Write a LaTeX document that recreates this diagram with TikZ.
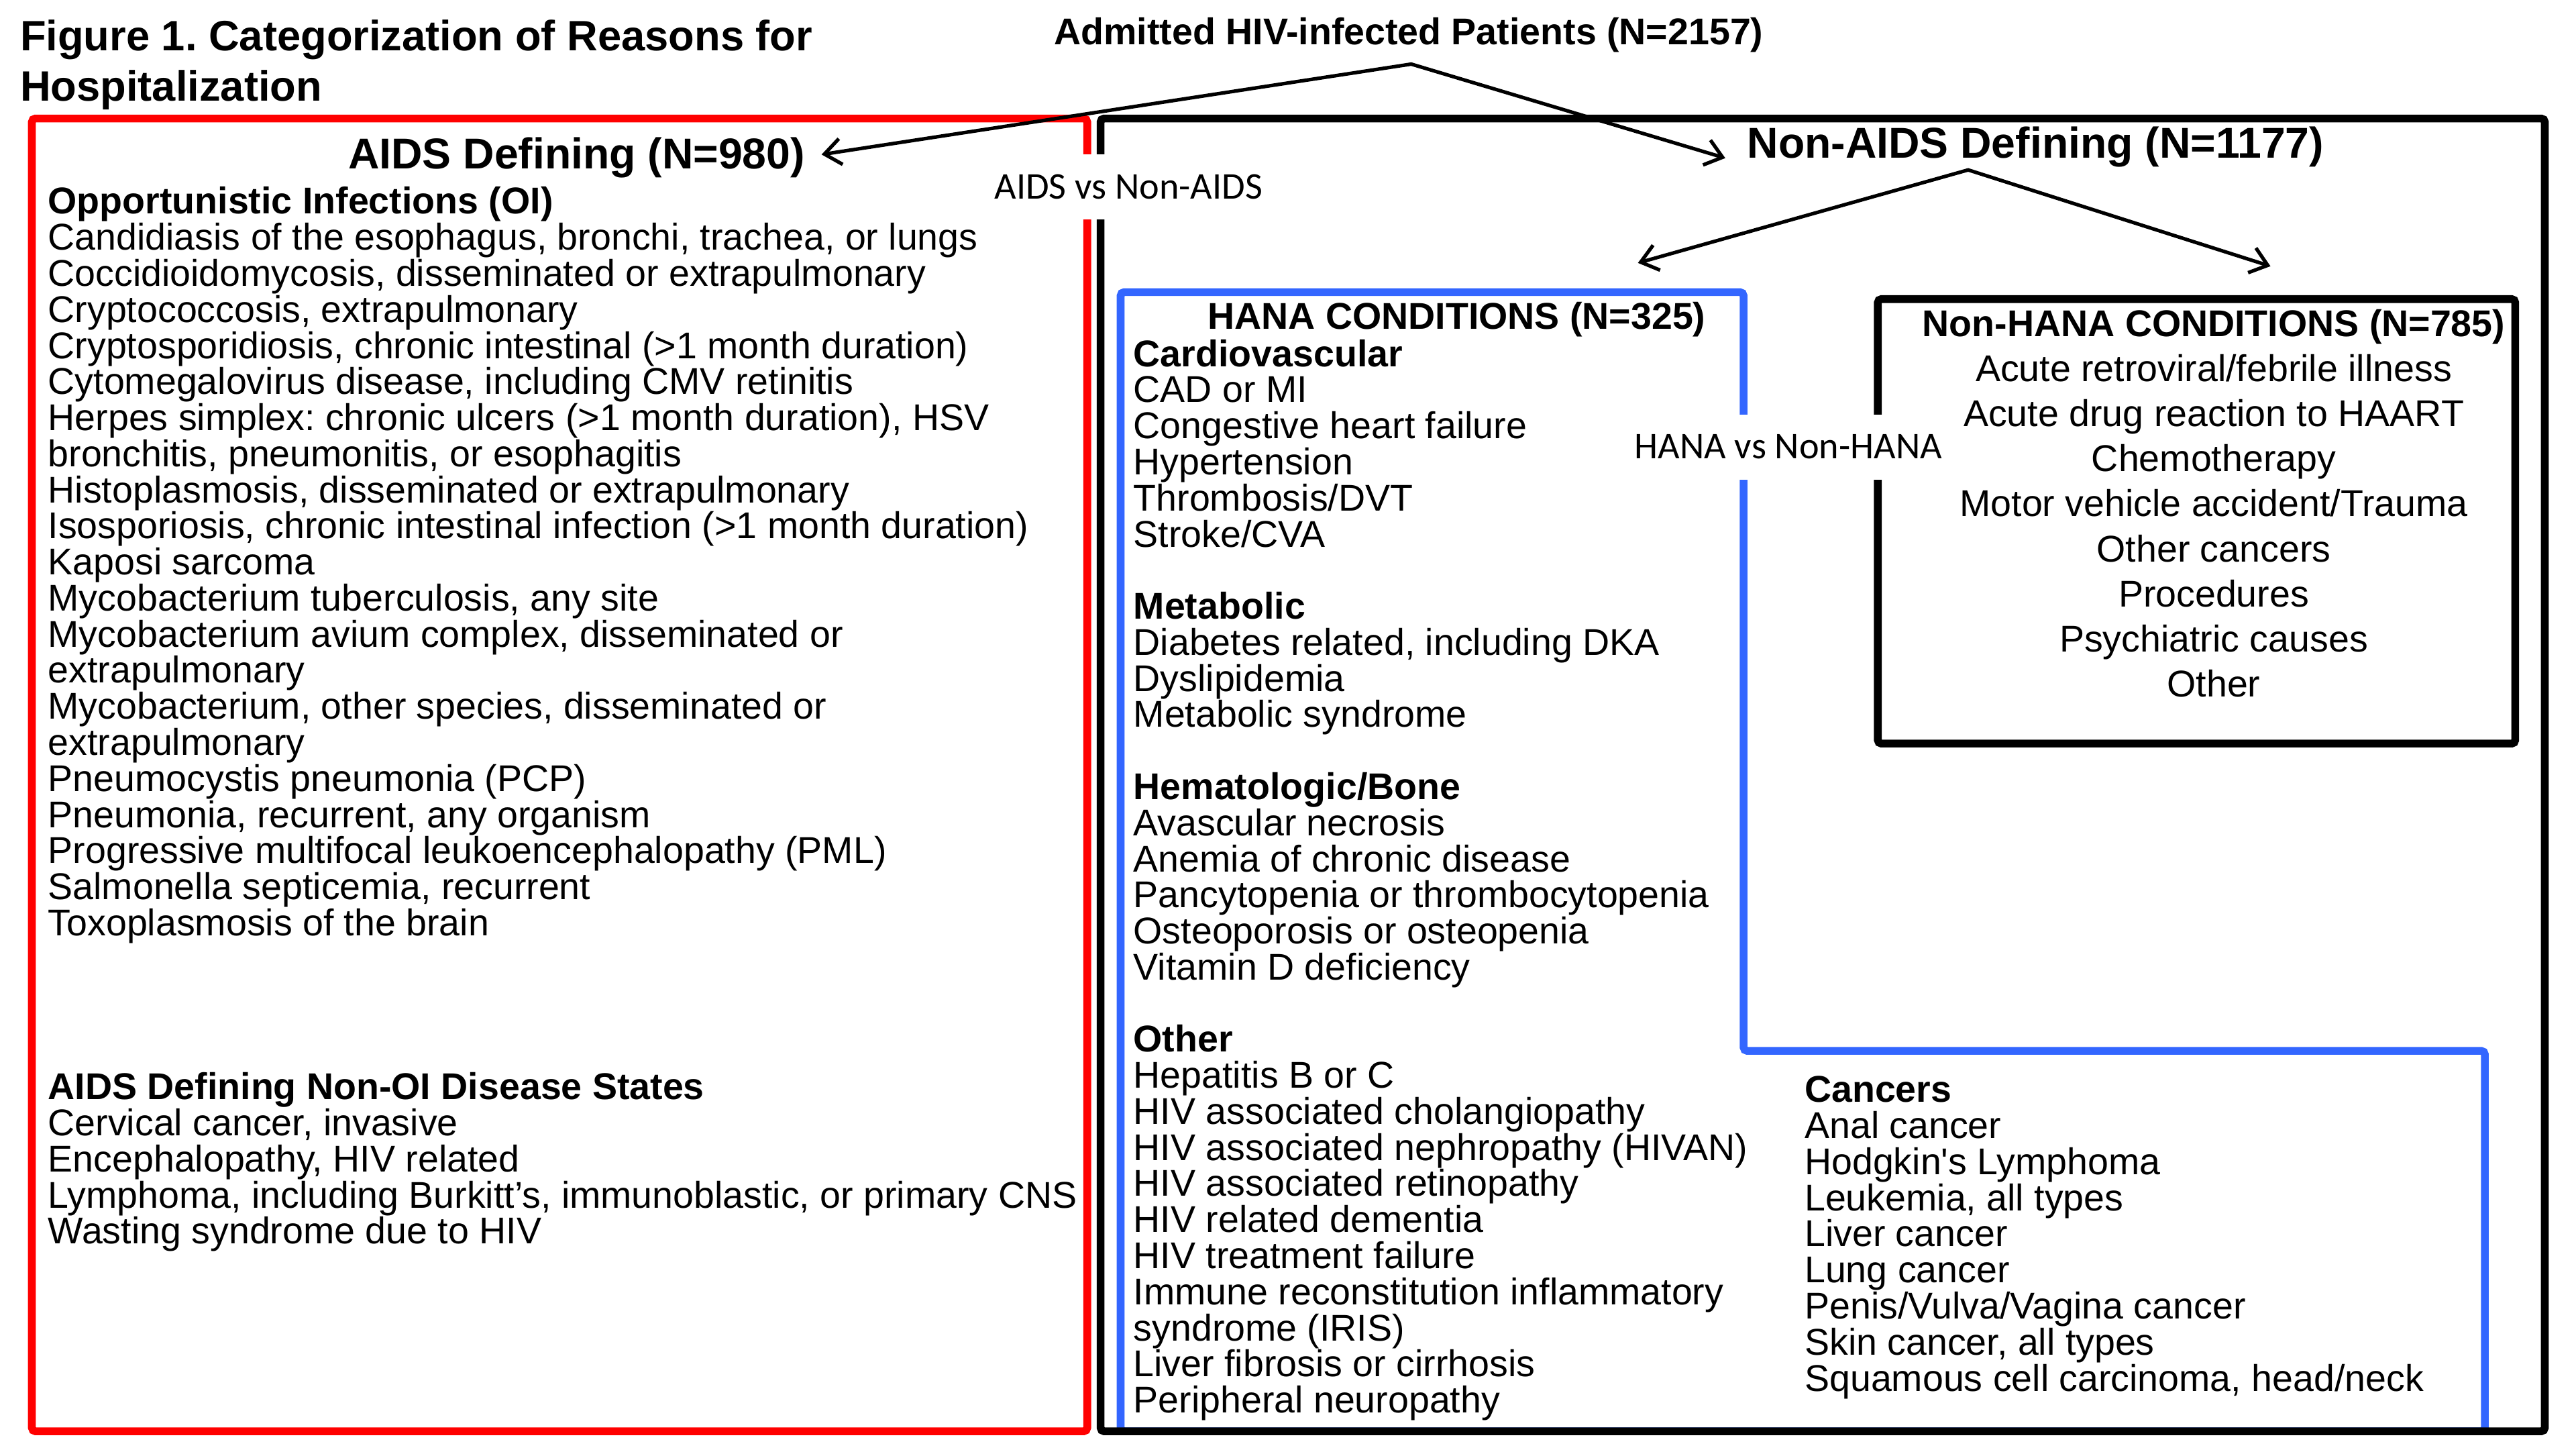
\documentclass[tikz,border=0pt]{standalone}
\usepackage{fontspec}
\setmainfont{Liberation Sans}
\newfontfamily\calibrifont{Carlito}
\usetikzlibrary{arrows.meta,positioning}
\definecolor{aidsred}{HTML}{FF0000}
\definecolor{hanablue}{HTML}{3366FF}
\frenchspacing

\begin{document}
\begin{tikzpicture}[
  x=0.02449cm, y=-0.02449cm,
  list/.style={anchor=north west, inner sep=0pt, align=left, font=\fontsize{15.8}{15.3}\selectfont},
  head/.style={inner sep=2pt, font=\bfseries\fontsize{18.3}{22}\selectfont},
  subhead/.style={inner sep=2pt, font=\bfseries\fontsize{15.8}{19}\selectfont},
  vslabel/.style={fill=white, inner xsep=3pt, inner ysep=0pt, minimum height=0.97cm, font=\calibrifont\fontsize{16}{19}\selectfont},
  frame/.style={line width=3.3pt, rounded corners=1.5pt},
  arr/.style={{Straight Barb[length=7pt, width=11pt]}-{Straight Barb[length=7pt, width=11pt]}, line width=1.5pt, line join=miter}
]
  \useasboundingbox (0,0) rectangle (1568,882);

  % boxes
  \draw[frame, hanablue] (682.1,871) -- (682.1,177.8) -- (1061.3,177.8) -- (1061.3,639.5) -- (1512.5,639.5) -- (1512.5,871) -- cycle;
  \draw[frame, aidsred] (19.4,72.1) rectangle (661.8,871);
  \draw[frame] (669.9,72.1) rectangle (1549,871);
  \draw[frame] (1143,182) rectangle (1531,452.5);

  % titles and headers
  \node[list, font=\bfseries\fontsize{18}{21.3}\selectfont] (title) at (12,11.7) {Figure 1. Categorization of Reasons for\\Hospitalization};
  \node[subhead, anchor=base] (patients) at (857.5,27.2) {Admitted HIV-infected Patients (N=2157)};
  \node[head, anchor=base] (aidshead) at (351,102.8) {AIDS Defining (N=980)};
  \node[head, anchor=base] (nonaidshead) at (1239,96) {Non-AIDS Defining (N=1177)};
  \node[subhead, anchor=base] (hanahead) at (886.7,200.3) {HANA CONDITIONS (N=325)};

  \node[vslabel] (aidsvs) at (686.9,113.7) {AIDS vs Non-AIDS};
  \node[vslabel] (hanavs) at (1088.5,272) {HANA vs Non-HANA};

  % AIDS defining
  \node[list] (oi) at (29,113.5) {\textbf{Opportunistic Infections (OI)}\\
    Candidiasis of the esophagus, bronchi, trachea, or lungs\\
    Coccidioidomycosis, disseminated or extrapulmonary\\
    Cryptococcosis, extrapulmonary\\
    Cryptosporidiosis, chronic intestinal (>1 month duration)\\
    Cytomegalovirus disease, including CMV retinitis\\
    Herpes simplex: chronic ulcers (>1 month duration), HSV\\
    bronchitis, pneumonitis, or esophagitis\\
    Histoplasmosis, disseminated or extrapulmonary\\
    Isosporiosis, chronic intestinal infection (>1 month duration)\\
    Kaposi sarcoma\\
    Mycobacterium tuberculosis, any site\\
    Mycobacterium avium complex, disseminated or\\
    extrapulmonary\\
    Mycobacterium, other species, disseminated or\\
    extrapulmonary\\
    Pneumocystis pneumonia (PCP)\\
    Pneumonia, recurrent, any organism\\
    Progressive multifocal leukoencephalopathy (PML)\\
    Salmonella septicemia, recurrent\\
    Toxoplasmosis of the brain};
  \node[list] (nonoi) at (29,652.4) {\textbf{AIDS Defining Non-OI Disease States}\\
    Cervical cancer, invasive\\
    Encephalopathy, HIV related\\
    Lymphoma, including Burkitt’s, immunoblastic, or primary CNS\\
    Wasting syndrome due to HIV};

  % HANA
  \node[list] (hana) at (689.7,206.3) {\textbf{Cardiovascular}\\
    CAD or MI\\
    Congestive heart failure\\
    Hypertension\\
    Thrombosis/DVT\\
    Stroke/CVA\\[15.3pt]
    \textbf{Metabolic}\\
    Diabetes related, including DKA\\
    Dyslipidemia\\
    Metabolic syndrome\\[15.3pt]
    \textbf{Hematologic/Bone}\\
    Avascular necrosis\\
    Anemia of chronic disease\\
    Pancytopenia or thrombocytopenia\\
    Osteoporosis or osteopenia\\
    Vitamin D deficiency\\[15.3pt]
    \textbf{Other}\\
    Hepatitis B or C\\
    HIV associated cholangiopathy\\
    HIV associated nephropathy (HIVAN)\\
    HIV associated retinopathy\\
    HIV related dementia\\
    HIV treatment failure\\
    Immune reconstitution inflammatory\\
    syndrome (IRIS)\\
    Liver fibrosis or cirrhosis\\
    Peripheral neuropathy};
  \node[list] (cancers) at (1098.2,654.7) {\textbf{Cancers}\\
    Anal cancer\\
    Hodgkin\textquotesingle s Lymphoma\\
    Leukemia, all types\\
    Liver cancer\\
    Lung cancer\\
    Penis/Vulva/Vagina cancer\\
    Skin cancer, all types\\
    Squamous cell carcinoma, head/neck};

  % Non-HANA
  \node[list, anchor=north, align=center, font=\fontsize{15.8}{19.1}\selectfont] (nonhana) at (1347.5,188) {\textbf{Non-HANA CONDITIONS (N=785)}\\
    Acute retroviral/febrile illness\\
    Acute drug reaction to HAART\\
    Chemotherapy\\
    Motor vehicle accident/Trauma\\
    Other cancers\\
    Procedures\\
    Psychiatric causes\\
    Other};

  % splits
  \coordinate (split1) at (859,39);
  \coordinate (split2) at (1198,103.4);
  \coordinate (hanatip) at (997,160);
  \coordinate (nonhanatip) at (1382,162);
  \draw[arr] ([xshift=1.7mm, yshift=0.5mm]aidshead.east) -- (split1) -- ([xshift=-2.5mm, yshift=-1.7mm]nonaidshead.west);
  \draw[arr] (hanatip) -- (split2) -- (nonhanatip);
\end{tikzpicture}
\end{document}
